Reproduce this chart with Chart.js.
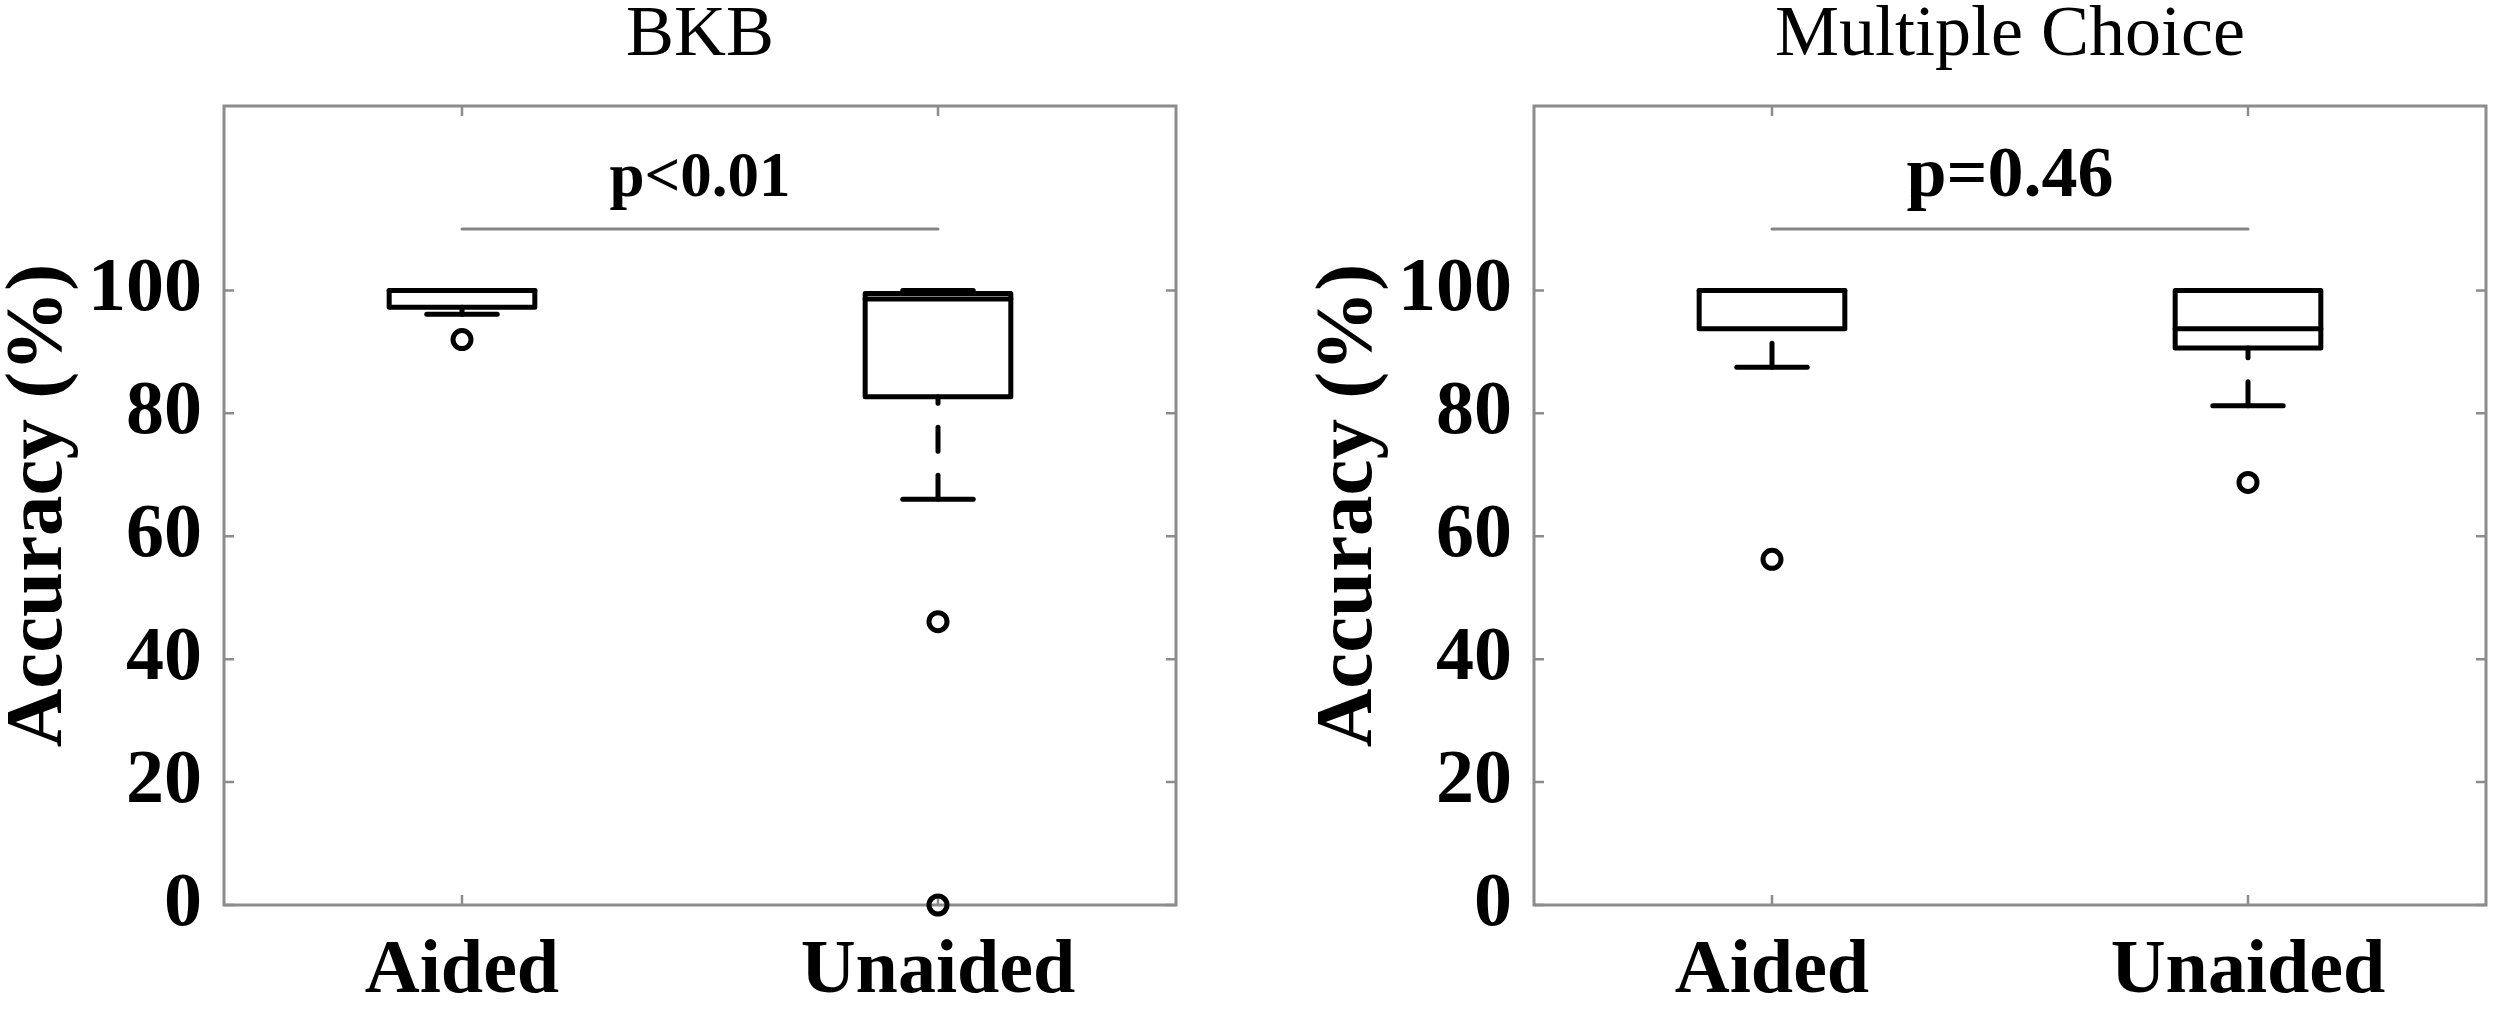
<!DOCTYPE html>
<html lang="en">

<head>
    <meta charset="UTF-8">
    <title>Accuracy box plots</title>
    <script src="https://cdn.jsdelivr.net/npm/chart.js"></script>
    <style>
        body {
            margin: 0;
            background: #fff;
        }
        .panel {
            position: absolute;
            top: 0;
        }
    </style>
</head>

<body>
    <canvas id="left" class="panel" width="1190" height="1009" style="left:0"></canvas>
    <canvas id="right" class="panel" width="1190" height="1009" style="left:1310px"></canvas>
    <script>
        // groups and positions on the x axis
        const groups = ['Aided', 'Unaided'];
        const positions = [1, 2];
        const yTicks = [0, 20, 40, 60, 80, 100];

        // BKB panel, values in %
        const bkbLow = [96.1, 66];
        const bkbQ1 = [97.25, 82.7];
        const bkbMed = [100, 98.6];
        const bkbQ3 = [100, 99.5];
        const bkbHigh = [100, 100];
        const bkbOutliers = [[92], [46.1, 0]];

        // Multiple choice panel
        const mcLow = [87.5, 81.25];
        const mcQ1 = [93.75, 90.625];
        const mcMed = [100, 93.75];
        const mcQ3 = [100, 100];
        const mcHigh = [100, 100];
        const mcOutliers = [[56.25], [68.75]];

        const serif = "'Liberation Serif', 'Times New Roman', serif";
        const frameGray = '#8c8c8c';
        const boxHalf = 0.153;
        const capHalf = 0.074;
        const lw = 5;

        function seg(color, width, dash, pts) {
            return {
                data: pts,
                showLine: true,
                borderColor: color,
                borderWidth: width,
                borderDash: dash || [],
                borderCapStyle: 'round',
                borderJoinStyle: 'round',
                pointRadius: 0,
                fill: false,
                clip: false
            };
        }

        function buildDatasets(low, q1, med, q3, high, outliers) {
            const sets = [];
            positions.forEach((p, i) => {
                // whiskers go from the end toward the box so the dashes start at the cap
                sets.push(seg('#000', lw, [24, 24], [{ x: p, y: low[i] }, { x: p, y: q1[i] }]));
                sets.push(seg('#000', lw, [24, 24], [{ x: p, y: high[i] }, { x: p, y: q3[i] }]));
                sets.push(seg('#000', lw, null, [{ x: p - capHalf, y: low[i] }, { x: p + capHalf, y: low[i] }]));
                sets.push(seg('#000', lw, null, [{ x: p - capHalf, y: high[i] }, { x: p + capHalf, y: high[i] }]));
                sets.push(seg('#000', lw, null, [
                    { x: p - boxHalf, y: q1[i] }, { x: p + boxHalf, y: q1[i] },
                    { x: p + boxHalf, y: q3[i] }, { x: p - boxHalf, y: q3[i] },
                    { x: p - boxHalf, y: q1[i] }
                ]));
                sets.push(seg('#000', lw, null, [{ x: p - boxHalf, y: med[i] }, { x: p + boxHalf, y: med[i] }]));
                sets.push({
                    data: outliers[i].map(v => ({ x: p, y: v })),
                    showLine: false,
                    pointStyle: 'circle',
                    pointRadius: 9,
                    pointBorderWidth: 5,
                    pointBorderColor: '#000',
                    pointBackgroundColor: 'rgba(0,0,0,0)',
                    clip: false
                });
            });
            // significance bar
            sets.push(seg('#858585', 3, null, [{ x: positions[0], y: 110 }, { x: positions[1], y: 110 }]));
            return sets;
        }

        const framePlugin = {
            id: 'frame',
            beforeDatasetsDraw(chart) {
                const { ctx, chartArea: a, scales: { x, y } } = chart;
                ctx.save();
                ctx.strokeStyle = frameGray;
                ctx.lineWidth = 3;
                ctx.strokeRect(a.left, a.top, a.right - a.left, a.bottom - a.top);
                ctx.lineWidth = 2.5;
                ctx.beginPath();
                yTicks.forEach(v => {
                    const py = y.getPixelForValue(v);
                    ctx.moveTo(a.left, py);
                    ctx.lineTo(a.left + 10, py);
                    ctx.moveTo(a.right, py);
                    ctx.lineTo(a.right - 10, py);
                });
                positions.forEach(v => {
                    const px = x.getPixelForValue(v);
                    ctx.moveTo(px, a.bottom);
                    ctx.lineTo(px, a.bottom - 10);
                    ctx.moveTo(px, a.top);
                    ctx.lineTo(px, a.top + 10);
                });
                ctx.stroke();
                ctx.restore();
            },
            afterDatasetsDraw(chart, args, opts) {
                const { ctx, scales: { x, y } } = chart;
                ctx.save();
                ctx.fillStyle = '#000';
                ctx.font = 'bold ' + opts.size + 'px ' + serif;
                ctx.textAlign = 'center';
                ctx.textBaseline = 'alphabetic';
                ctx.fillText(opts.text, x.getPixelForValue(1.5), y.getPixelForValue(opts.at));
                ctx.restore();
            }
        };

        function makeChart(id, title, datasets, pText, pSize) {
            const ctx = document.getElementById(id).getContext('2d');
            return new Chart(ctx, {
                type: 'scatter',
                data: { datasets: datasets },
                plugins: [framePlugin],
                options: {
                    responsive: false,
                    animation: false,
                    devicePixelRatio: 1,
                    layout: { padding: { left: 0, right: 14, top: 0, bottom: 0 } },
                    plugins: {
                        legend: { display: false },
                        tooltip: { enabled: false },
                        title: {
                            display: true,
                            fullSize: false,
                            text: title,
                            color: '#000',
                            font: { family: serif, size: 72, weight: 'normal', lineHeight: 1 },
                            padding: { top: 0, bottom: 34 }
                        },
                        frame: { text: pText, size: pSize, at: 115.4 }
                    },
                    scales: {
                        x: {
                            type: 'linear',
                            min: 0.5,
                            max: 2.5,
                            grid: { display: false, drawTicks: false },
                            border: { display: false },
                            afterBuildTicks: s => { s.ticks = positions.map(v => ({ value: v })); },
                            afterFit: s => { s.height = 104; },
                            ticks: {
                                padding: 22,
                                color: '#000',
                                font: { family: serif, size: 76, weight: 'bold' },
                                callback: v => groups[positions.indexOf(v)]
                            }
                        },
                        y: {
                            min: 0,
                            max: 130,
                            grid: { display: false, drawTicks: false },
                            border: { display: false },
                            afterBuildTicks: s => { s.ticks = yTicks.map(v => ({ value: v })); },
                            afterFit: s => { s.width = 224; },
                            ticks: {
                                padding: 22,
                                color: '#000',
                                font: { family: serif, size: 76, weight: 'bold' }
                            },
                            title: {
                                display: true,
                                text: 'Accuracy (%)',
                                color: '#000',
                                font: { family: serif, size: 81, weight: 'bold', lineHeight: 1 },
                                padding: { top: 0, bottom: 0 }
                            }
                        }
                    }
                }
            });
        }

        makeChart('left', 'BKB', buildDatasets(bkbLow, bkbQ1, bkbMed, bkbQ3, bkbHigh, bkbOutliers), 'p<0.01', 63);
        makeChart('right', 'Multiple Choice', buildDatasets(mcLow, mcQ1, mcMed, mcQ3, mcHigh, mcOutliers), 'p=0.46', 72);
    </script>
</body>

</html>
